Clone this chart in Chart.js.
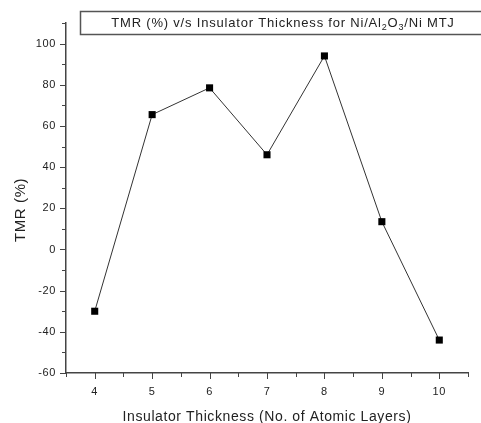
<!DOCTYPE html>
<html>
<head>
<meta charset="utf-8">
<script src="https://cdn.jsdelivr.net/npm/chart.js@4"></script>
<style>
  html, body { margin: 0; padding: 0; background: #fff; }
  #wrap { width: 481px; height: 423px; }
</style>
</head>
<body>
<div id="wrap"><canvas id="tmrChart"></canvas></div>
<script>
        const layers = [4, 5, 6, 7, 8, 9, 10];
        const tmrValues = [-30, 65.5, 78.5, 46, 94, 13.5, -44];
        const xTicks = [4, 5, 6, 7, 8, 9, 10];
        const yTicks = [-60, -40, -20, 0, 20, 40, 60, 80, 100];

        const fontName = '"Liberation Sans", Arial, sans-serif';

        // wider letter spacing like the original export
        const spacing = {
            id: 'spacing',
            beforeDraw(chart) { chart.ctx.letterSpacing = '0.6px'; },
            afterDraw(chart) { chart.ctx.letterSpacing = '0px'; }
        };

        // origin-style tick marks: major outward 6px, minor 4px
        const tickMarks = {
            id: 'tickMarks',
            afterDraw(chart) {
                const ctx = chart.ctx;
                const xs = chart.scales.x;
                const ys = chart.scales.y;
                const area = chart.chartArea;
                ctx.save();
                ctx.strokeStyle = '#444';
                ctx.lineWidth = 1;
                ctx.beginPath();
                for (let v = 3.5; v <= 10.5; v += 0.5) {
                    const px = Math.round(xs.getPixelForValue(v)) + 0.5;
                    const len = Number.isInteger(v) ? 6 : 4;
                    ctx.moveTo(px, area.bottom);
                    ctx.lineTo(px, area.bottom + len);
                }
                for (let v = -60; v <= 110; v += 10) {
                    const py = Math.round(ys.getPixelForValue(v)) + 0.5;
                    const len = v % 20 === 0 ? 6 : 4;
                    ctx.moveTo(area.left, py);
                    ctx.lineTo(area.left - len, py);
                }
                ctx.stroke();
                ctx.restore();
            }
        };

        // boxed title with subscripts
        const titleBox = {
            id: 'titleBox',
            afterDraw(chart) {
                const ctx = chart.ctx;
                ctx.save();
                ctx.letterSpacing = '0.8px';
                ctx.strokeStyle = '#555';
                ctx.lineWidth = 1.5;
                ctx.strokeRect(80.5, 11.5, 420, 23);
                const parts = [
                    ['TMR (%) v/s Insulator Thickness for Ni/Al', false],
                    ['2', true],
                    ['O', false],
                    ['3', true],
                    ['/Ni MTJ', false]
                ];
                const big = '13px ' + fontName;
                const small = '9px ' + fontName;
                let total = 0;
                parts.forEach(p => {
                    ctx.font = p[1] ? small : big;
                    total += ctx.measureText(p[0]).width;
                });
                let x = 283 - total / 2;
                ctx.fillStyle = '#222';
                ctx.textBaseline = 'alphabetic';
                parts.forEach(p => {
                    ctx.font = p[1] ? small : big;
                    ctx.fillText(p[0], x, p[1] ? 30 : 27);
                    x += ctx.measureText(p[0]).width;
                });
                ctx.restore();
            }
        };

        new Chart(document.getElementById('tmrChart'), {
            type: 'line',
            data: {
                datasets: [{
                    data: layers.map((l, i) => ({ x: l, y: tmrValues[i] })),
                    borderColor: '#333',
                    borderWidth: 1,
                    pointStyle: 'rect',
                    pointRadius: 5,
                    pointBackgroundColor: '#000',
                    pointBorderColor: '#000',
                    pointBorderWidth: 0,
                    tension: 0
                }]
            },
            options: {
                responsive: true,
                maintainAspectRatio: false,
                animation: false,
                layout: { padding: { top: 23, right: 13, left: 0, bottom: 0 } },
                plugins: { legend: { display: false }, tooltip: { enabled: false } },
                scales: {
                    x: {
                        type: 'linear',
                        min: 3.5,
                        max: 10.5,
                        afterBuildTicks: s => { s.ticks = xTicks.map(v => ({ value: v })); },
                        afterFit: s => { s.height = 50; },
                        grid: { drawOnChartArea: false, tickLength: 6, tickColor: 'transparent' },
                        border: { color: '#444', width: 1.5 },
                        ticks: {
                            padding: 6,
                            color: '#222',
                            maxRotation: 0,
                            font: { family: fontName, size: 11 }
                        },
                        title: {
                            display: true,
                            text: 'Insulator Thickness (No. of Atomic Layers)',
                            color: '#222',
                            padding: { top: 0, bottom: -3 },
                            font: { family: fontName, size: 14 }
                        }
                    },
                    y: {
                        min: -60,
                        max: 110,
                        afterBuildTicks: s => { s.ticks = yTicks.map(v => ({ value: v })); },
                        afterFit: s => { s.width = 66; },
                        grid: { drawOnChartArea: false, tickLength: 6, tickColor: 'transparent' },
                        border: { color: '#444', width: 1.5 },
                        ticks: {
                            padding: 4,
                            color: '#222',
                            font: { family: fontName, size: 11 }
                        },
                        title: {
                            display: true,
                            // trailing spaces push the label down to where it sat in the original
                            text: 'TMR (%)     ',
                            color: '#222',
                            padding: { top: 12, bottom: 0 },
                            font: { family: fontName, size: 15 }
                        }
                    }
                }
            },
            plugins: [spacing, tickMarks, titleBox]
        });
</script>
</body>
</html>
